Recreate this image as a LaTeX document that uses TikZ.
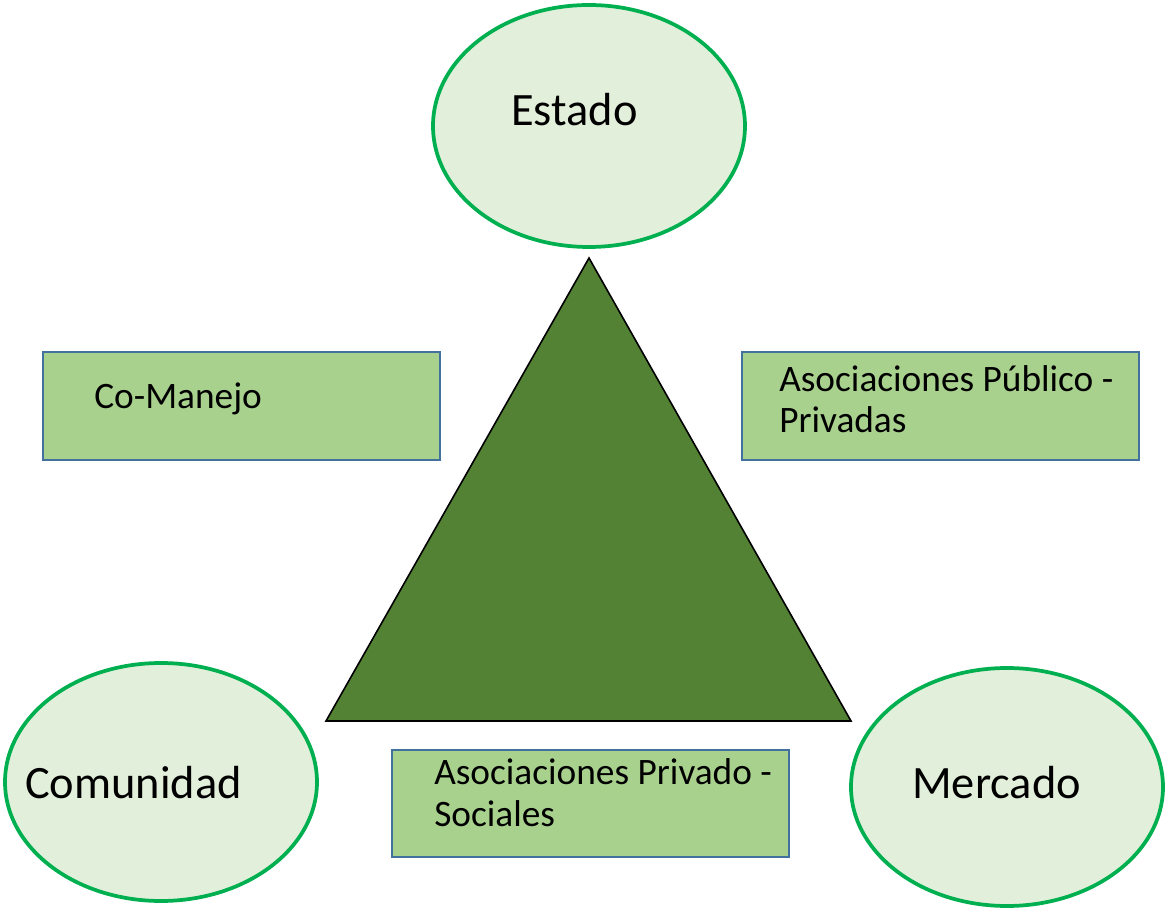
\documentclass[tikz,border=0pt]{standalone}
\usepackage{fontspec}
\setmainfont{Carlito}
\usetikzlibrary{shapes.geometric}
\definecolor{ellfill}{HTML}{E2EFDA}
\definecolor{ellline}{HTML}{00B050}
\definecolor{boxfill}{HTML}{A9D18E}
\definecolor{boxline}{HTML}{41719C}
\definecolor{trifill}{HTML}{548235}
\tikzset{
  actor/.style={ellipse, draw=ellline, fill=ellfill, line width=2.8pt, inner sep=0pt},
  bigtxt/.style={anchor=base west, inner sep=0pt, font=\fontsize{34.8pt}{40pt}\selectfont},
  assoc/.style={rectangle, draw=boxline, fill=boxfill, line width=1.6pt, inner sep=0pt,
                minimum width=297.75pt},
  boxtxt/.style={anchor=base west, inner sep=0pt, align=left,
                 font=\fontsize{28pt}{31.5pt}\selectfont},
}
\begin{document}
\begin{tikzpicture}[x=0.75pt, y=-0.75pt]
\useasboundingbox (0,0) rectangle (1165,909);
% ellipses
\node[actor, minimum width=234pt, minimum height=181.5pt] (estado) at (589,126) {};
\node[actor, minimum width=234pt, minimum height=178.5pt] (comunidad) at (161,782) {};
\node[actor, minimum width=234pt, minimum height=178.5pt] (mercado) at (1007,787) {};
\node[bigtxt] (testado) at (511,126) {Estado};
\node[bigtxt] (tcomunidad) at (25,798) {Comunidad};
\node[bigtxt] (tmercado) at (912,798) {Mercado};
% triangle
\coordinate (apex) at (589,258);
\coordinate (bl) at (326,721);
\coordinate (br) at (851,721);
\draw[fill=trifill, line width=1.2pt, line join=miter] (apex) -- (bl) -- (br) -- cycle;
% boxes
\node[assoc, minimum height=81pt] (comanejo) at (241.5,406) {};
\node[assoc, minimum height=81pt] (app) at (940.5,406) {};
\node[assoc, minimum height=80.25pt] (aps) at (590.5,803.5) {};
\node[boxtxt] (tcomanejo) at (94,409) {Co-Manejo};
\node[boxtxt] (tapp) at (779,433) {Asociaciones Público -\\Privadas};
\node[boxtxt] (taps) at (434,826) {Asociaciones Privado -\\Sociales};
\end{tikzpicture}
\end{document}
